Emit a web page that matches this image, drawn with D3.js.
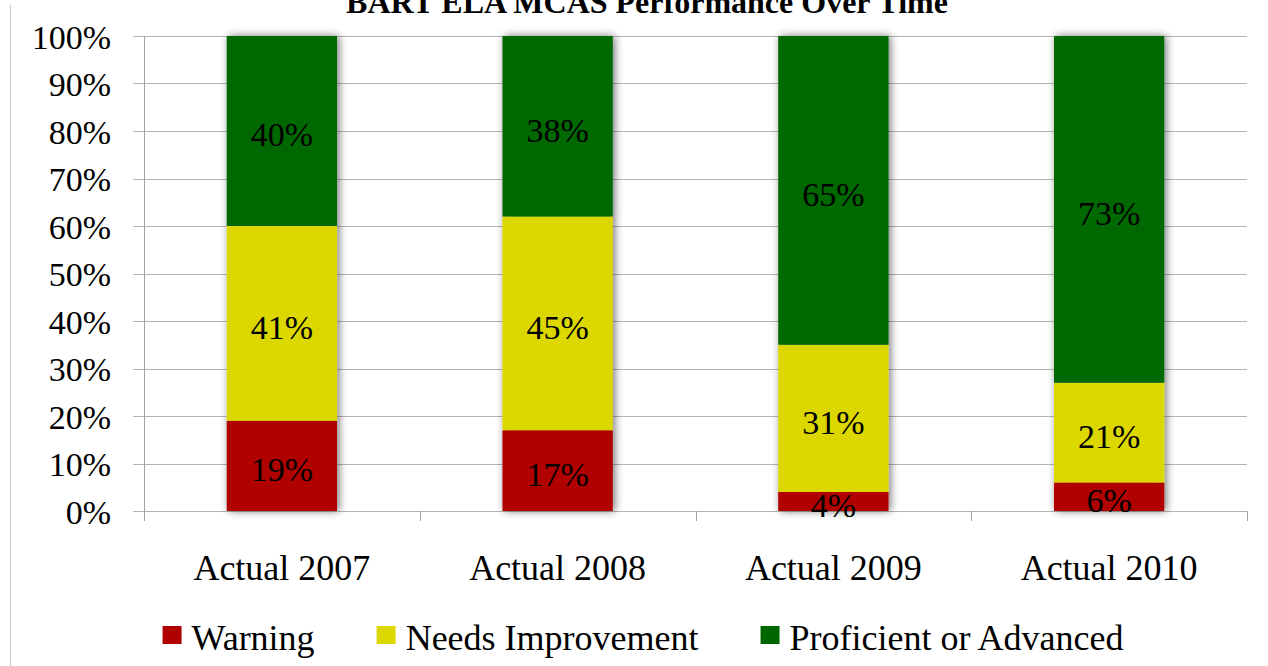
<!DOCTYPE html>
<html lang="en">
<head>
<meta charset="UTF-8">
<title>BART ELA MCAS Performance Over Time</title>
<script src="https://d3js.org/d3.v7.min.js"></script>
<style>
    body { margin: 0; background: #fff; }
    svg { display: block; }
    svg text { font-family: "Liberation Serif", "Times New Roman", serif; }
</style>
</head>
<body>
<div id="chart"></div>
<script>
    // data
    const categories = ['Actual 2007', 'Actual 2008', 'Actual 2009', 'Actual 2010'];
    const seriesNames = ['Warning', 'Needs Improvement', 'Proficient or Advanced'];
    const warning = [19, 17, 4, 6];
    const needsImprovement = [41, 45, 31, 21];
    const proficient = [40, 38, 65, 73];
    const yTicks = [0, 10, 20, 30, 40, 50, 60, 70, 80, 90, 100];
    const colors = ['#b00000', '#ddd700', '#006700'];

    const width = 1268, height = 666;
    const plot = { left: 144, right: 1247, top: 36, bottom: 511 };
    const serif = '"Liberation Serif", "Times New Roman", serif';

    const rows = categories.map((c, i) => ({
        category: c,
        'Warning': warning[i],
        'Needs Improvement': needsImprovement[i],
        'Proficient or Advanced': proficient[i]
    }));
    const stacked = d3.stack().keys(seriesNames)(rows);

    const x = d3.scaleBand()
        .domain(categories)
        .range([plot.left, plot.right])
        .paddingInner(0.6)
        .paddingOuter(0.3);

    const y = d3.scaleLinear()
        .domain([0, 100])
        .range([plot.bottom, plot.top]);

    const color = d3.scaleOrdinal().domain(seriesNames).range(colors);

    const svg = d3.select('#chart')
        .append('svg')
        .attr('width', width)
        .attr('height', height);

    // soft shadow behind the bars
    const filter = svg.append('defs').append('filter')
        .attr('id', 'shadow')
        .attr('x', '-30%').attr('y', '-5%')
        .attr('width', '160%').attr('height', '110%');
    filter.append('feGaussianBlur')
        .attr('in', 'SourceAlpha')
        .attr('stdDeviation', 4)
        .attr('result', 'blur');
    filter.append('feOffset')
        .attr('in', 'blur').attr('dx', 2).attr('dy', 0)
        .attr('result', 'off');
    filter.append('feComponentTransfer')
        .attr('in', 'off').attr('result', 'soft')
        .append('feFuncA').attr('type', 'linear').attr('slope', 0.55);
    const merge = filter.append('feMerge');
    merge.append('feMergeNode').attr('in', 'soft');
    merge.append('feMergeNode').attr('in', 'SourceGraphic');

    // left frame line
    svg.append('line')
        .attr('x1', 10.5).attr('x2', 10.5)
        .attr('y1', 5).attr('y2', height)
        .attr('stroke', '#c8c8c8')
        .attr('stroke-width', 1);

    // horizontal gridlines (with the small left overhang as ticks)
    svg.append('g')
        .selectAll('line')
        .data(yTicks)
        .join('line')
        .attr('x1', plot.left - 11)
        .attr('x2', plot.right)
        .attr('y1', d => Math.round(y(d)) + 0.5)
        .attr('y2', d => Math.round(y(d)) + 0.5)
        .attr('stroke', '#b4b4b4')
        .attr('stroke-width', 1);

    // y axis labels
    const yAxis = svg.append('g')
        .attr('transform', `translate(${plot.left - 11}, 0)`)
        .call(d3.axisLeft(y).tickValues(yTicks).tickSize(0).tickPadding(22).tickFormat(d => d + '%'));
    yAxis.attr('font-family', null).attr('font-size', null);
    yAxis.select('.domain').remove();
    yAxis.selectAll('text')
        .style('font-family', serif)
        .attr('font-size', 34)
        .attr('fill', '#000')
        .attr('dy', '0.36em');

    // y axis line
    svg.append('line')
        .attr('x1', plot.left + 0.5).attr('x2', plot.left + 0.5)
        .attr('y1', plot.top).attr('y2', plot.bottom + 10)
        .attr('stroke', '#a0a0a0');

    // category separator ticks
    const step = x.step();
    svg.append('g')
        .selectAll('line')
        .data(d3.range(categories.length + 1))
        .join('line')
        .attr('x1', i => Math.round(plot.left + i * step) + 0.5)
        .attr('x2', i => Math.round(plot.left + i * step) + 0.5)
        .attr('y1', plot.bottom)
        .attr('y2', plot.bottom + 10)
        .attr('stroke', '#a0a0a0');

    // bars
    const bars = svg.append('g').attr('filter', 'url(#shadow)');
    bars.selectAll('g')
        .data(stacked)
        .join('g')
        .attr('fill', d => color(d.key))
        .selectAll('rect')
        .data(d => d)
        .join('rect')
        .attr('x', d => x(d.data.category))
        .attr('width', x.bandwidth())
        .attr('y', d => y(d[1]))
        .attr('height', d => y(d[0]) - y(d[1]));

    // value labels
    svg.append('g')
        .selectAll('g')
        .data(stacked)
        .join('g')
        .selectAll('text')
        .data(d => d)
        .join('text')
        .attr('x', d => x(d.data.category) + x.bandwidth() / 2)
        .attr('y', d => y((d[0] + d[1]) / 2))
        .attr('dy', '0.45em')
        .attr('text-anchor', 'middle')
        .style('font-family', serif)
        .attr('font-size', 34)
        .attr('fill', '#000')
        .text(d => (d[1] - d[0]) + '%');

    // category labels
    svg.append('g')
        .selectAll('text')
        .data(categories)
        .join('text')
        .attr('x', d => x(d) + x.bandwidth() / 2)
        .attr('y', 580)
        .attr('text-anchor', 'middle')
        .style('font-family', serif)
        .attr('font-size', 36)
        .attr('fill', '#000')
        .text(d => d);

    // title (clipped at the top, as in the original)
    svg.append('text')
        .attr('x', 647)
        .attr('y', 13)
        .attr('text-anchor', 'middle')
        .style('font-family', serif)
        .attr('font-size', 32)
        .attr('font-weight', 'bold')
        .attr('fill', '#000')
        .text('BART ELA MCAS Performance Over Time');

    // legend
    const legend = svg.append('g');
    const items = legend.selectAll('g')
        .data(seriesNames)
        .join('g');
    items.append('rect')
        .attr('width', 19)
        .attr('height', 18)
        .attr('y', -24)
        .attr('fill', d => color(d));
    items.append('text')
        .attr('x', 29)
        .attr('y', 0)
        .style('font-family', serif)
        .attr('font-size', 36)
        .attr('fill', '#000')
        .text(d => d);

    const gap = 62;
    let offset = 0;
    items.each(function() {
        d3.select(this).attr('transform', `translate(${offset}, 650)`);
        const w = d3.select(this).select('text').node().getComputedTextLength();
        offset += 29 + w + gap;
    });
    const totalWidth = offset - gap;
    legend.attr('transform', `translate(${643 - totalWidth / 2}, 0)`);
</script>
</body>
</html>
